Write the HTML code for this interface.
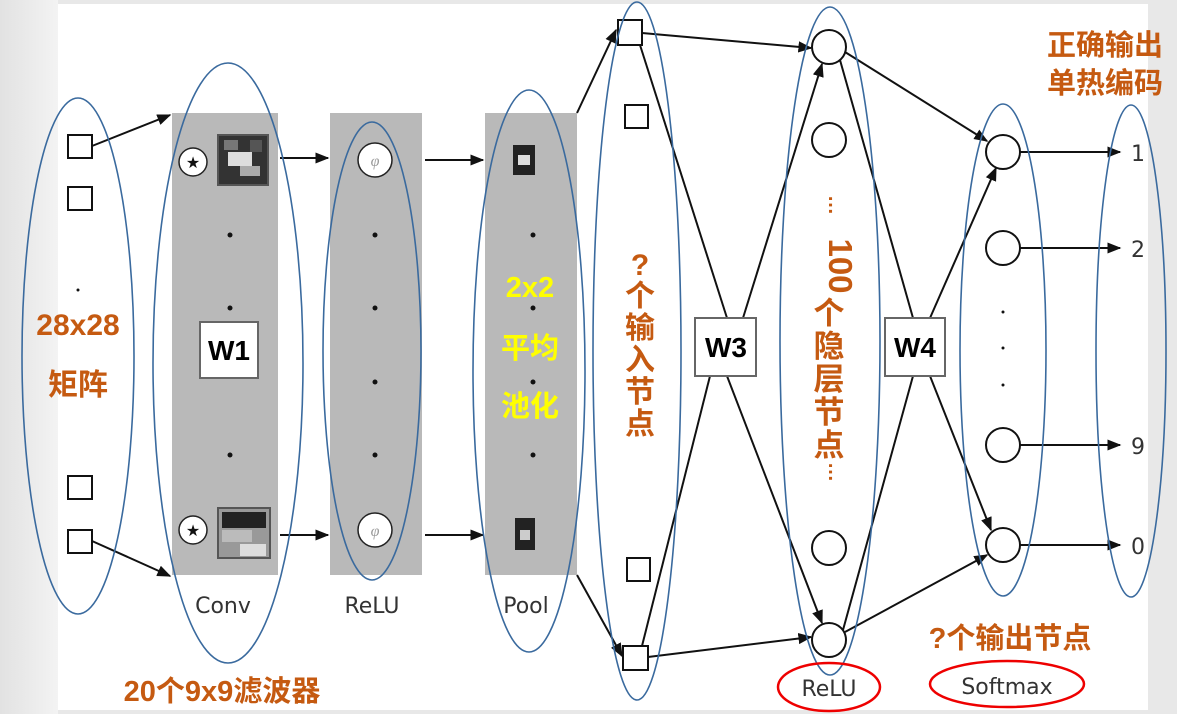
<!DOCTYPE html>
<html><head><meta charset="utf-8"><style>
html,body{margin:0;padding:0;}
body{width:1177px;height:714px;overflow:hidden;background:#e6e6e6;}
svg{display:block;}
.o{font-family:"Liberation Sans","Noto Sans CJK SC",sans-serif;font-weight:bold;fill:#c55a11;}
.g{font-family:"DejaVu Sans","Liberation Sans",sans-serif;fill:#333;}
</style></head><body>
<svg width="1177" height="714" viewBox="0 0 1177 714" xmlns="http://www.w3.org/2000/svg">
<defs>
<linearGradient id="lg" x1="0" x2="1"><stop offset="0" stop-color="#e2e2e2"/><stop offset="1" stop-color="#f3f3f3"/></linearGradient>
<marker id="a" viewBox="0 0 10 10" refX="9" refY="5" markerWidth="7" markerHeight="7" orient="auto-start-reverse"><path d="M0,1 L10,5 L0,9 z" fill="#111"/></marker>
</defs>
<rect x="0" y="0" width="1177" height="714" fill="#e8e8e8"/>
<rect x="0" y="0" width="58" height="714" fill="url(#lg)"/>
<rect x="58" y="4" width="1090" height="706" fill="#fff"/>

<rect x="172" y="113" width="106" height="462" fill="#b9b9b9"/>
<rect x="330" y="113" width="92" height="462" fill="#b9b9b9"/>
<rect x="485" y="113" width="92" height="462" fill="#b9b9b9"/>

<g stroke="#111" stroke-width="2" fill="#fff">
<rect x="68" y="135" width="24" height="23"/>
<rect x="68" y="187" width="24" height="23"/>
<rect x="68" y="476" width="24" height="23"/>
<rect x="68" y="530" width="24" height="23"/>
<rect x="618" y="20" width="24" height="25"/>
<rect x="625" y="105" width="23" height="23"/>
<rect x="627" y="558" width="23" height="23"/>
<rect x="623" y="646" width="25" height="24"/>
<circle cx="829" cy="47" r="17"/>
<circle cx="829" cy="140" r="17"/>
<circle cx="829" cy="548" r="17"/>
<circle cx="829" cy="640" r="17"/>
<circle cx="1003" cy="152" r="17"/>
<circle cx="1003" cy="248" r="17"/>
<circle cx="1003" cy="445" r="17"/>
<circle cx="1003" cy="545" r="17"/>
</g>
<circle cx="78" cy="290" r="1.5" fill="#111"/>

<g stroke="#222" stroke-width="1.5" fill="#fff">
<circle cx="193" cy="162" r="14"/><circle cx="193" cy="530" r="14"/>
<circle cx="375" cy="160" r="17"/><circle cx="375" cy="530" r="17"/>
</g>
<text x="193" y="168" font-size="16" text-anchor="middle" fill="#111">★</text>
<text x="193" y="536" font-size="16" text-anchor="middle" fill="#111">★</text>
<text x="375" y="166" font-size="16" text-anchor="middle" fill="#999" font-style="italic">φ</text>
<text x="375" y="536" font-size="16" text-anchor="middle" fill="#999" font-style="italic">φ</text>
<rect x="218" y="135" width="50" height="50" fill="#333" stroke="#555" stroke-width="2"/>
<rect x="224" y="140" width="14" height="10" fill="#777"/><rect x="228" y="152" width="24" height="14" fill="#ddd"/><rect x="240" y="166" width="20" height="10" fill="#aaa"/><rect x="250" y="140" width="12" height="12" fill="#555"/>
<rect x="218" y="508" width="52" height="50" fill="#999" stroke="#555" stroke-width="2"/>
<rect x="222" y="512" width="44" height="16" fill="#222"/><rect x="222" y="530" width="30" height="12" fill="#bbb"/><rect x="240" y="544" width="26" height="12" fill="#ddd"/>
<rect x="513" y="145" width="22" height="30" fill="#222"/><rect x="518" y="155" width="12" height="10" fill="#ddd"/>
<rect x="515" y="518" width="20" height="32" fill="#222"/><rect x="520" y="530" width="10" height="10" fill="#ccc"/>
<g fill="#111">
<circle cx="230" cy="235" r="2.5"/><circle cx="230" cy="308" r="2.5"/><circle cx="230" cy="455" r="2.5"/>
<circle cx="375" cy="235" r="2.5"/><circle cx="375" cy="308" r="2.5"/><circle cx="375" cy="382" r="2.5"/><circle cx="375" cy="455" r="2.5"/>
<circle cx="533" cy="235" r="2.5"/><circle cx="533" cy="308" r="2.5"/><circle cx="533" cy="382" r="2.5"/><circle cx="533" cy="455" r="2.5"/>
<circle cx="1003" cy="312" r="1.5"/><circle cx="1003" cy="348" r="1.5"/><circle cx="1003" cy="385" r="1.5"/>
</g>

<g stroke="#111" stroke-width="2" fill="none">
<line x1="92" y1="146" x2="170" y2="115" marker-end="url(#a)"/>
<line x1="92" y1="541" x2="170" y2="576" marker-end="url(#a)"/>
<line x1="280" y1="158" x2="328" y2="158" marker-end="url(#a)"/>
<line x1="425" y1="160" x2="483" y2="160" marker-end="url(#a)"/>
<line x1="280" y1="535" x2="328" y2="535" marker-end="url(#a)"/>
<line x1="425" y1="535" x2="483" y2="535" marker-end="url(#a)"/>
<line x1="577" y1="113" x2="616" y2="30" marker-end="url(#a)"/>
<line x1="577" y1="575" x2="622" y2="656" marker-end="url(#a)"/>
<line x1="642" y1="33" x2="811" y2="48" marker-end="url(#a)"/>
<line x1="640" y1="45" x2="727" y2="318"/>
<line x1="743" y1="318" x2="822" y2="64" marker-end="url(#a)"/>
<line x1="710" y1="376" x2="642" y2="646"/>
<line x1="727" y1="376" x2="822" y2="623" marker-end="url(#a)"/>
<line x1="648" y1="657" x2="811" y2="637" marker-end="url(#a)"/>
<line x1="845" y1="52" x2="987" y2="141" marker-end="url(#a)"/>
<line x1="840" y1="60" x2="913" y2="318"/>
<line x1="930" y1="318" x2="996" y2="168" marker-end="url(#a)"/>
<line x1="913" y1="376" x2="843" y2="630"/>
<line x1="930" y1="376" x2="991" y2="530" marker-end="url(#a)"/>
<line x1="845" y1="632" x2="987" y2="555" marker-end="url(#a)"/>
<line x1="1020" y1="152" x2="1120" y2="152" marker-end="url(#a)"/>
<line x1="1020" y1="248" x2="1120" y2="248" marker-end="url(#a)"/>
<line x1="1020" y1="445" x2="1120" y2="445" marker-end="url(#a)"/>
<line x1="1020" y1="545" x2="1120" y2="545" marker-end="url(#a)"/>
</g>

<g stroke="#666" stroke-width="2" fill="#fff">
<rect x="200" y="322" width="58" height="56"/>
<rect x="695" y="318" width="61" height="58"/>
<rect x="885" y="318" width="60" height="58"/>
</g>
<g font-family="Liberation Sans, sans-serif" font-weight="bold" font-size="28" text-anchor="middle" fill="#000">
<text x="229" y="360">W1</text><text x="726" y="357">W3</text><text x="915" y="357">W4</text>
</g>

<g stroke="#3a6a9e" stroke-width="1.6" fill="none">
<ellipse cx="78" cy="356" rx="56" ry="258"/>
<ellipse cx="228" cy="363" rx="75" ry="300"/>
<ellipse cx="372" cy="351" rx="49" ry="229"/>
<ellipse cx="529" cy="371" rx="56" ry="281"/>
<ellipse cx="637" cy="351" rx="44" ry="349"/>
<ellipse cx="830" cy="341" rx="50" ry="334"/>
<ellipse cx="1003" cy="350" rx="43" ry="246"/>
<ellipse cx="1131" cy="351" rx="35" ry="246"/>
</g>

<g stroke="#e00" stroke-width="2.5" fill="none">
<ellipse cx="829" cy="687" rx="51" ry="24"/>
<ellipse cx="1007" cy="684" rx="77" ry="23"/>
</g>

<g class="g" font-size="22" text-anchor="middle">
<text x="223" y="613">Conv</text><text x="372" y="613">ReLU</text><text x="526" y="613">Pool</text>
<text x="829" y="696">ReLU</text><text x="1007" y="694">Softmax</text>
<text x="1138" y="161">1</text><text x="1138" y="257">2</text><text x="1138" y="454">9</text><text x="1138" y="554">0</text>
</g>

<g class="o" font-size="30" text-anchor="middle">
<text x="78" y="335">28x28</text>
<text x="78" y="395">矩阵</text>
<text x="1105" y="55" font-size="29">正确输出</text>
<text x="1105" y="93" font-size="29">单热编码</text>
<text x="1010" y="648" font-size="29">?个输出节点</text>
<text x="222" y="701" font-size="29">20个9x9滤波器</text>
</g>
<g font-family="Liberation Sans, Noto Sans CJK SC, sans-serif" font-weight="bold" font-size="29" text-anchor="middle" fill="#ffff00">
<text x="530" y="297">2x2</text><text x="530" y="358">平均</text><text x="530" y="416">池化</text>
</g>
<g class="o" font-size="30" text-anchor="middle">
<text x="640" y="275">?</text>
<text x="640" y="306">个</text><text x="640" y="338">输</text><text x="640" y="370">入</text><text x="640" y="402">节</text><text x="640" y="434">点</text>
</g>
<g class="o" text-anchor="middle">
<text x="829" y="205" font-size="20" transform="rotate(90 829 205)">…</text>
<text x="829" y="266" font-size="33" transform="rotate(90 829 266)">100</text>
<text x="829" y="324" font-size="31">个</text>
<text x="829" y="357" font-size="31">隐</text>
<text x="829" y="390" font-size="31">层</text>
<text x="829" y="423" font-size="31">节</text>
<text x="829" y="456" font-size="31">点</text>
<text x="829" y="472" font-size="20" transform="rotate(90 829 472)">…</text>
</g>
</svg>
</body></html>
